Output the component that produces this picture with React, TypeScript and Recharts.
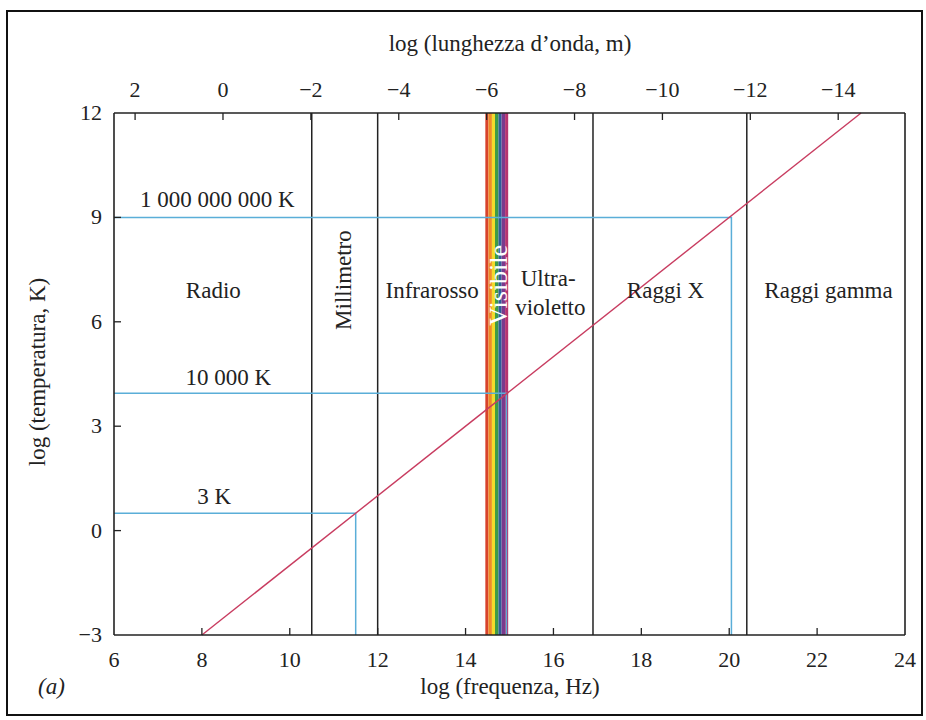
import React from 'react';
import {
  ComposedChart,
  XAxis,
  YAxis,
  Line,
  Scatter,
  ReferenceLine,
  ReferenceArea,
} from 'recharts';

// axes
const freqTicks = [6, 8, 10, 12, 14, 16, 18, 20, 22, 24];
const tempTicks = [-3, 0, 3, 6, 9, 12];
const wavelengthTicks = [2, 0, -2, -4, -6, -8, -10, -12, -14];
const LOG_C = 8.48; // log(c) links wavelength to frequency

// band borders and the visible strip
const bandEdges = [10.5, 12, 16.9, 20.4];
const visibleStripes = [14.45, 14.52, 14.6, 14.67, 14.75, 14.82, 14.9, 14.97];
const stripeColors = ['#d8432c', '#ee8b27', '#f2db2c', '#3f9b46', '#2e5e98', '#7a3a8d', '#b7346f'];

// Wien line (log T vs log frequency of the peak)
const wienLine = [
  { f: 8, t: -3 },
  { f: 23, t: 12 },
];

// marked temperatures: log T and peak frequency
const markerTemps = [0.5, 3.95, 9];
const markerPeaks = [11.5, 14.93, 20.05];
const markerNames = ['3 K', '10 000 K', '1 000 000 000 K'];
const markerLabelX = [8.28, 8.6, 8.35];
const markerLabelY = [0.97, 4.4, 9.52];

// band names
const bandNames = ['Radio', 'Millimetro', 'Infrarosso', 'Visibile', 'Ultra-', 'violetto', 'Raggi X', 'Raggi gamma'];
const bandLabelX = [8.26, 11.22, 13.24, 14.74, 15.88, 15.93, 18.55, 22.26];
const bandLabelY = [6.9, 7.2, 6.9, 7.05, 7.25, 6.42, 6.9, 6.9];

const FONT = '"Liberation Serif", "DejaVu Serif", serif';
const INK = '#222';
const BLUE = '#5aaed8';
const minus = (v: number) => (v < 0 ? '\u2212' + Math.abs(v) : String(v));

const markerPaths = markerTemps.map((t, i) => [
  { f: 6, t },
  { f: markerPeaks[i], t },
  { f: markerPeaks[i], t: -3 },
]);

const labelPoints = [
  ...bandNames.map((label, i) => ({ f: bandLabelX[i], t: bandLabelY[i], label })),
  ...markerNames.map((label, i) => ({ f: markerLabelX[i], t: markerLabelY[i], label })),
];

const BottomTick = ({ x, y, payload }: any) => {
  const edge = payload.value === 6 || payload.value === 24;
  return (
    <g>
      {!edge && <line x1={x} x2={x} y1={y} y2={y - 7} stroke={INK} strokeWidth={1.3} />}
      <text x={x} y={y + 32} textAnchor="middle" fontFamily={FONT} fontSize={22} fill={INK}>
        {payload.value}
      </text>
    </g>
  );
};

const TopTick = ({ x, y, payload }: any) => (
  <g>
    <line x1={x} x2={x} y1={y} y2={y + 7} stroke={INK} strokeWidth={1.3} />
    <text x={x} y={y - 16} textAnchor="middle" fontFamily={FONT} fontSize={22} fill={INK}>
      {minus(Math.round(LOG_C - payload.value))}
    </text>
  </g>
);

const LeftTick = ({ x, y, payload }: any) => {
  const edge = payload.value === 12 || payload.value === -3;
  return (
    <g>
      {!edge && <line x1={x} x2={x + 7} y1={y} y2={y} stroke={INK} strokeWidth={1.3} />}
      <text x={x - 12} y={y + 7} textAnchor="end" fontFamily={FONT} fontSize={22} fill={INK}>
        {minus(payload.value)}
      </text>
    </g>
  );
};

const LabelShape = ({ cx, cy, payload }: any) => {
  const name = payload.label;
  const rotated = name === 'Millimetro' || name === 'Visibile';
  const white = name === 'Visibile';
  return (
    <text
      x={cx}
      y={cy}
      transform={rotated ? `rotate(-90 ${cx} ${cy})` : undefined}
      textAnchor="middle"
      dominantBaseline="central"
      fontFamily={FONT}
      fontSize={white ? 26 : 23}
      fill={white ? '#fff' : INK}
    >
      {name}
    </text>
  );
};

export default function App() {
  return (
    <div style={{ position: 'absolute', left: 0, top: 0, width: 926, height: 720, background: '#fff' }}>
      <div
        style={{
          position: 'absolute',
          left: 6,
          top: 10,
          width: 913,
          height: 702,
          border: '2px solid #111',
        }}
      />
      <div style={{ position: 'absolute', left: 0, top: 0 }}>
        <ComposedChart width={926} height={720} margin={{ top: 83, right: 21, bottom: 55, left: 54 }}>
          <XAxis
            xAxisId="b"
            dataKey="f"
            type="number"
            domain={[6, 24]}
            ticks={freqTicks}
            interval={0}
            height={30}
            tickSize={0}
            tickMargin={0}
            tickLine={false}
            tick={<BottomTick />}
            axisLine={{ stroke: INK, strokeWidth: 1.6 }}
          />
          <XAxis
            xAxisId="t"
            dataKey="f"
            orientation="top"
            type="number"
            domain={[6, 24]}
            allowDataOverflow
            ticks={wavelengthTicks.map((w) => LOG_C - w)}
            interval={0}
            height={30}
            tickSize={0}
            tickMargin={0}
            tickLine={false}
            tick={<TopTick />}
            axisLine={{ stroke: INK, strokeWidth: 1.6 }}
          />
          <YAxis
            dataKey="t"
            type="number"
            domain={[-3, 12]}
            ticks={tempTicks}
            interval={0}
            width={60}
            tickSize={0}
            tickMargin={0}
            tickLine={false}
            tick={<LeftTick />}
            axisLine={{ stroke: INK, strokeWidth: 1.6 }}
          />
          {stripeColors.map((c, i) => (
            <ReferenceArea
              key={c}
              xAxisId="b"
              x1={visibleStripes[i]}
              x2={visibleStripes[i + 1]}
              fill={c}
              fillOpacity={1}
              stroke="none"
            />
          ))}
          {bandEdges.map((x) => (
            <ReferenceLine key={x} xAxisId="b" x={x} stroke={INK} strokeWidth={1.5} />
          ))}
          <ReferenceLine xAxisId="b" x={24} stroke={INK} strokeWidth={1.6} />
          {markerPaths.map((d, i) => (
            <Line
              key={i}
              xAxisId="b"
              data={d}
              dataKey="t"
              type="linear"
              stroke={BLUE}
              strokeWidth={1.5}
              dot={false}
              isAnimationActive={false}
            />
          ))}
          <Line
            xAxisId="b"
            data={wienLine}
            dataKey="t"
            type="linear"
            stroke="#c83c60"
            strokeWidth={1.4}
            dot={false}
            isAnimationActive={false}
          />
          {/* same line on the wavelength axis, invisible, so that axis is drawn */}
          <Line
            xAxisId="t"
            data={wienLine}
            dataKey="t"
            type="linear"
            stroke="none"
            dot={false}
            activeDot={false}
            legendType="none"
            isAnimationActive={false}
          />
          <Scatter
            xAxisId="b"
            data={labelPoints}
            dataKey="t"
            shape={<LabelShape />}
            isAnimationActive={false}
          />
        </ComposedChart>
      </div>
      <div
        style={{
          position: 'absolute',
          left: 0,
          width: 1020,
          top: 31,
          textAlign: 'center',
          fontFamily: FONT,
          fontSize: 23,
          color: INK,
        }}
      >
        log (lunghezza d’onda, m)
      </div>
      <div
        style={{
          position: 'absolute',
          left: 0,
          width: 1020,
          top: 674,
          textAlign: 'center',
          fontFamily: FONT,
          fontSize: 23,
          color: INK,
        }}
      >
        log (frequenza, Hz)
      </div>
      <div
        style={{
          position: 'absolute',
          left: 38,
          top: 674,
          fontFamily: FONT,
          fontSize: 23,
          fontStyle: 'italic',
          color: INK,
        }}
      >
        (a)
      </div>
      <div
        style={{
          position: 'absolute',
          left: 38,
          top: 372,
          transform: 'translate(-50%, -50%) rotate(-90deg)',
          whiteSpace: 'nowrap',
          fontFamily: FONT,
          fontSize: 23,
          color: INK,
        }}
      >
        log (temperatura, K)
      </div>
    </div>
  );
}
